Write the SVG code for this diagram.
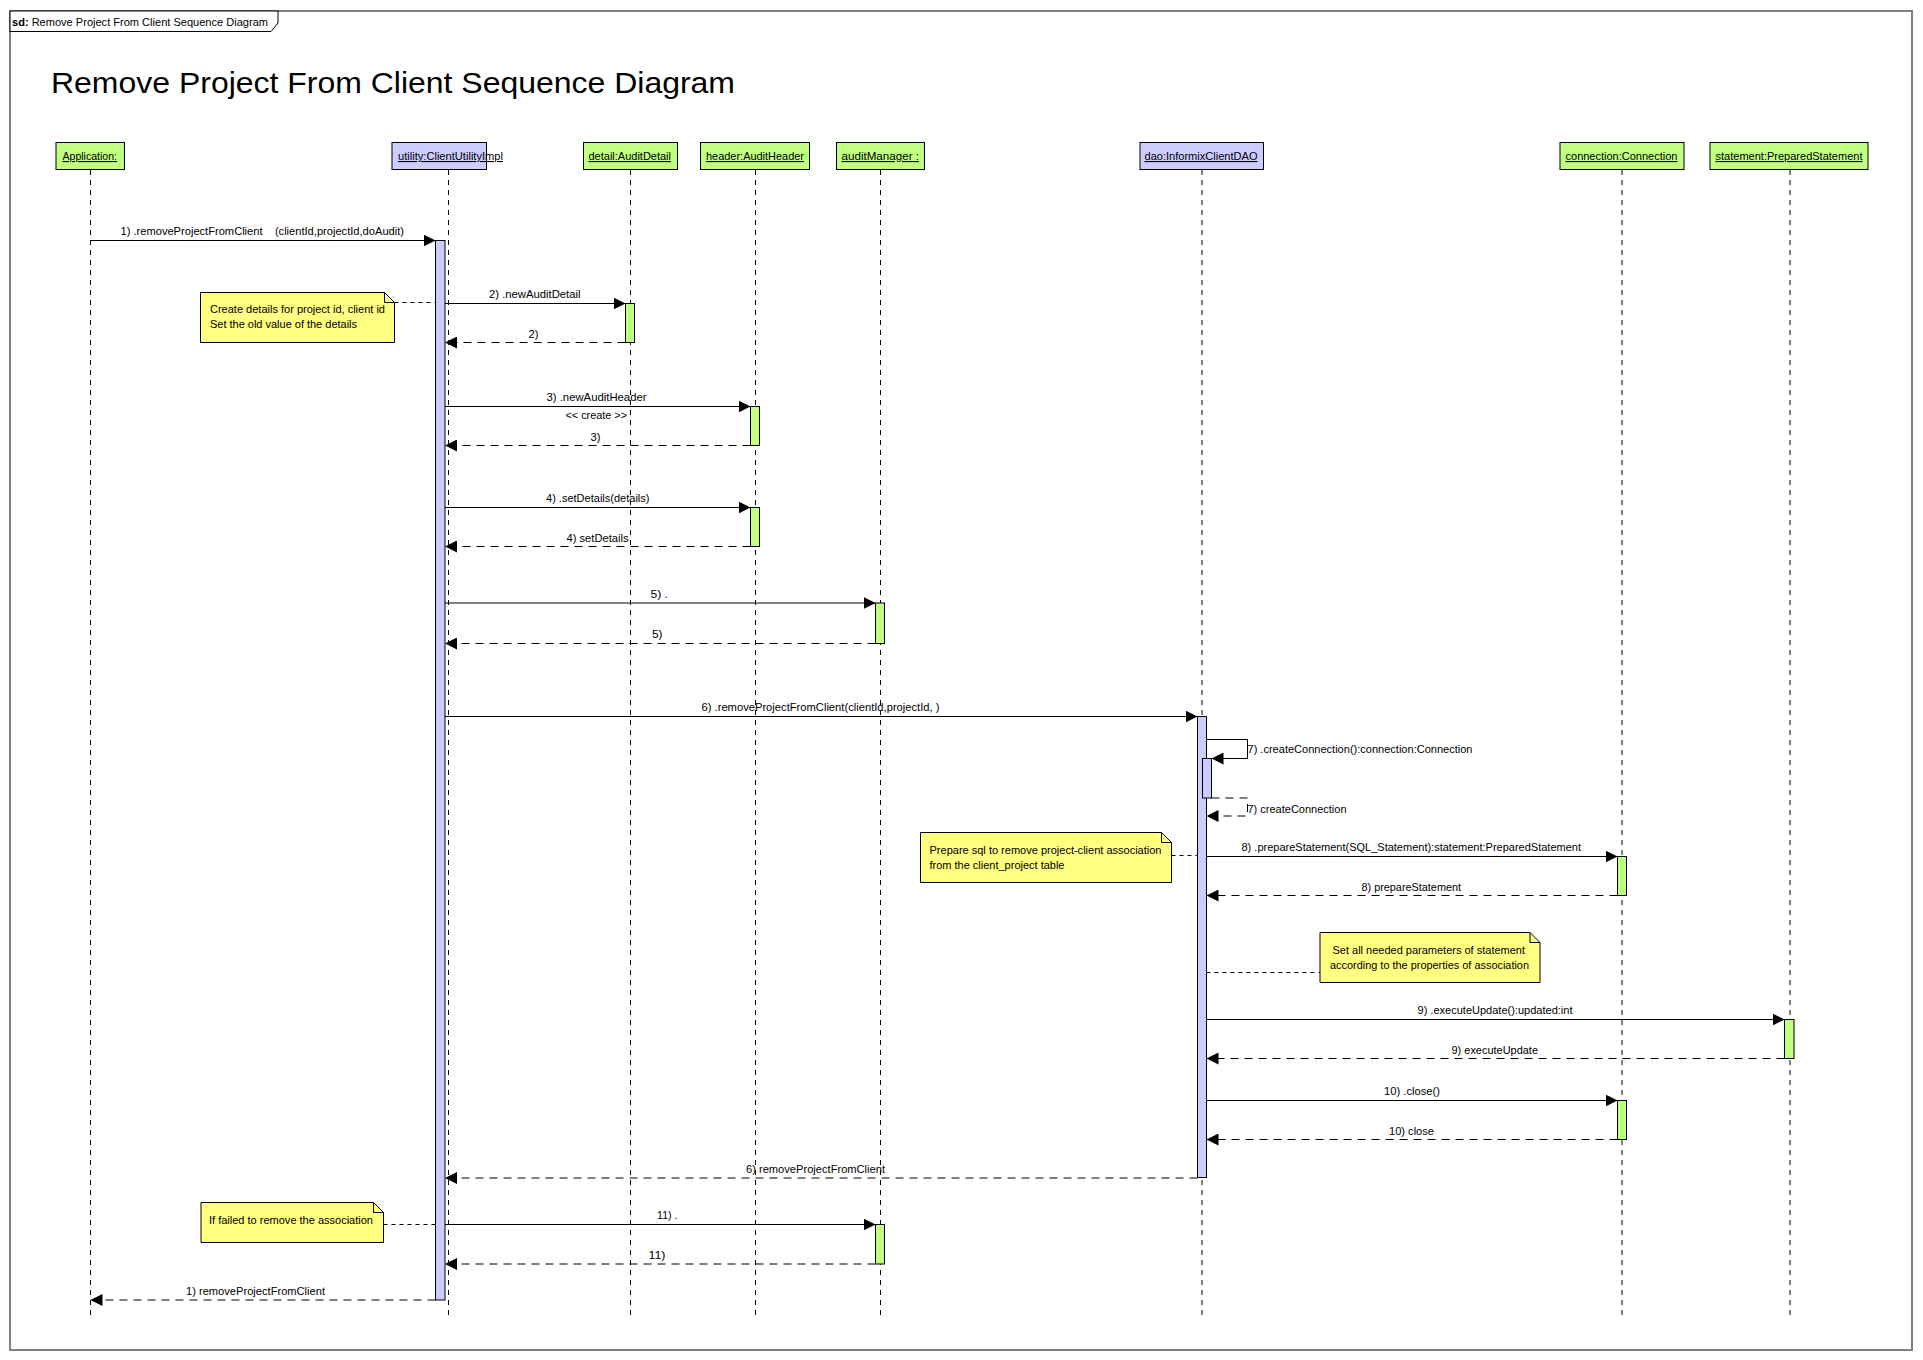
<svg xmlns="http://www.w3.org/2000/svg" width="1923" height="1360" viewBox="0 0 1923 1360">
<defs>
<style>
.t{font-family:"Liberation Sans",Arial,sans-serif;font-size:11px;fill:#000;white-space:pre}
.u{text-decoration:underline}
.life{stroke:#000;stroke-width:1;stroke-dasharray:5 5;fill:none}
.call{stroke:#000;stroke-width:1;fill:none;marker-end:url(#arr)}
.ret{stroke:#000;stroke-width:1;fill:none;stroke-dasharray:8 6;marker-end:url(#arr)}
.nl{stroke:#000;stroke-width:1;fill:none;stroke-dasharray:4 4}
.g{fill:#c0ff80;stroke:#000;stroke-width:1}
.p{fill:#ccccff;stroke:#000;stroke-width:1}
.note{fill:#ffff80;stroke:#000;stroke-width:1}
</style>
<marker id="arr" markerUnits="userSpaceOnUse" markerWidth="12" markerHeight="12" refX="12" refY="6" orient="auto">
<path d="M0,0 L12,6 L0,12 z" fill="#000"/>
</marker>
</defs>
<rect width="1923" height="1360" fill="#fff"/>
<rect x="10" y="11" width="1902" height="1339" fill="none" stroke="#808080" stroke-width="2"/>
<g id="frame-tab">
<polygon points="10,11 278,11 278,23 271,31.5 10,31.5" fill="#fff" stroke="#000" stroke-width="1"/>
<text class="t" x="12" y="26" textLength="256" lengthAdjust="spacingAndGlyphs"><tspan font-weight="bold">sd:</tspan> Remove Project From Client Sequence Diagram</text>
</g>
<text x="51" y="93" font-family="Liberation Sans,Arial,sans-serif" font-size="30" textLength="684" lengthAdjust="spacingAndGlyphs">Remove Project From Client Sequence Diagram</text>

<g id="lifelines">
<line class="life" x1="90.5" y1="170" x2="90.5" y2="1317"/>
<line class="life" x1="448.5" y1="170" x2="448.5" y2="1317"/>
<line class="life" x1="630.5" y1="170" x2="630.5" y2="1317"/>
<line class="life" x1="755.5" y1="170" x2="755.5" y2="1317"/>
<line class="life" x1="880.5" y1="170" x2="880.5" y2="1317"/>
<line class="life" x1="1202" y1="170" x2="1202" y2="1317"/>
<line class="life" x1="1622" y1="170" x2="1622" y2="1317"/>
<line class="life" x1="1790" y1="170" x2="1790" y2="1317"/>
</g>

<g id="node-application">
<rect class="g" x="56" y="142.5" width="68.5" height="27"/>
<text class="t u" x="62.5" y="160" textLength="54.5" lengthAdjust="spacingAndGlyphs">Application:</text>
</g>
<g id="node-utility">
<rect class="p" x="392" y="142.5" width="94.5" height="27"/>
<text class="t u" x="398" y="160" textLength="105" lengthAdjust="spacingAndGlyphs">utility:ClientUtilityImpl</text>
</g>
<g id="node-detail">
<rect class="g" x="583.5" y="142.5" width="94" height="27"/>
<text class="t u" x="588.5" y="160" textLength="82.5" lengthAdjust="spacingAndGlyphs">detail:AuditDetail</text>
</g>
<g id="node-header">
<rect class="g" x="700.5" y="142.5" width="109" height="27"/>
<text class="t u" x="706" y="160" textLength="98" lengthAdjust="spacingAndGlyphs">header:AuditHeader</text>
</g>
<g id="node-auditmanager">
<rect class="g" x="836.5" y="142.5" width="88" height="27"/>
<text class="t u" x="841.5" y="160" textLength="77.5" lengthAdjust="spacingAndGlyphs">auditManager :</text>
</g>
<g id="node-dao">
<rect class="p" x="1140" y="142.5" width="123.5" height="27"/>
<text class="t u" x="1144.5" y="160" textLength="113" lengthAdjust="spacingAndGlyphs">dao:InformixClientDAO</text>
</g>
<g id="node-connection">
<rect class="g" x="1560" y="142.5" width="124" height="27"/>
<text class="t u" x="1565.5" y="160" textLength="112" lengthAdjust="spacingAndGlyphs">connection:Connection</text>
</g>
<g id="node-statement">
<rect class="g" x="1710" y="142.5" width="158" height="27"/>
<text class="t u" x="1715.5" y="160" textLength="147" lengthAdjust="spacingAndGlyphs">statement:PreparedStatement</text>
</g>

<g id="activations">
<rect class="p" x="435.5" y="240.5" width="9.5" height="1059.5"/>
<rect class="g" x="625.5" y="303.5" width="9" height="39"/>
<rect class="g" x="750.5" y="406.5" width="9" height="39"/>
<rect class="g" x="750.5" y="507.5" width="9" height="39"/>
<rect class="g" x="875.5" y="603" width="9" height="40.5"/>
<rect class="p" x="1197.5" y="716.5" width="9" height="461"/>
<rect class="p" x="1202.5" y="758.5" width="9" height="39.5"/>
<rect class="g" x="1617.5" y="856.5" width="9" height="39"/>
<rect class="g" x="1784.5" y="1019.5" width="9.5" height="39"/>
<rect class="g" x="1617.5" y="1100.5" width="9" height="39"/>
<rect class="g" x="875.5" y="1224.5" width="9" height="39.5"/>
</g>

<g id="notes">
<g id="note-1">
<path class="note" d="M200.5,292.5 H384.5 L394.5,302.5 V342.5 H200.5 Z"/>
<path d="M384.5,292.5 V302.5 H394.5" fill="none" stroke="#000"/>
<text class="t" x="210" y="313" textLength="175" lengthAdjust="spacingAndGlyphs">Create details for project id, client id</text>
<text class="t" x="210" y="328" textLength="147" lengthAdjust="spacingAndGlyphs">Set the old value of the details</text>
</g>
<g id="note-2">
<path class="note" d="M920.5,832.5 H1161.5 L1171.5,842.5 V882.5 H920.5 Z"/>
<path d="M1161.5,832.5 V842.5 H1171.5" fill="none" stroke="#000"/>
<text class="t" x="929.5" y="854" textLength="232" lengthAdjust="spacingAndGlyphs">Prepare sql to remove project-client association</text>
<text class="t" x="929.5" y="869" textLength="135" lengthAdjust="spacingAndGlyphs">from the client_project table</text>
</g>
<g id="note-3">
<path class="note" d="M1320,932.5 H1530 L1540,942.5 V982.5 H1320 Z"/>
<path d="M1530,932.5 V942.5 H1540" fill="none" stroke="#000"/>
<text class="t" x="1332.5" y="954" textLength="192.5" lengthAdjust="spacingAndGlyphs">Set all needed parameters of statement</text>
<text class="t" x="1330" y="969" textLength="199" lengthAdjust="spacingAndGlyphs">according to the properties of association</text>
</g>
<g id="note-4">
<path class="note" d="M201,1202.5 H373.5 L383.5,1212.5 V1242.5 H201 Z"/>
<path d="M373.5,1202.5 V1212.5 H383.5" fill="none" stroke="#000"/>
<text class="t" x="209" y="1224" textLength="164" lengthAdjust="spacingAndGlyphs">If failed to remove the association</text>
</g>
</g>

<g id="connectors">
<line class="nl" x1="394.5" y1="302.5" x2="435.5" y2="302.5"/>
<line class="nl" x1="1171.5" y1="855.5" x2="1197.5" y2="855.5"/>
<line class="nl" x1="1206.5" y1="972.5" x2="1320" y2="972.5"/>
<line class="nl" x1="383.5" y1="1224.5" x2="435.5" y2="1224.5"/>

<line class="call" x1="90.5" y1="240.5" x2="435.5" y2="240.5"/>
<text class="t" x="120.5" y="235" textLength="283.5" lengthAdjust="spacingAndGlyphs">1) .removeProjectFromClient    (clientId,projectId,doAudit)</text>

<line class="call" x1="445" y1="303.5" x2="625.5" y2="303.5"/>
<text class="t" x="489" y="298" textLength="91.5" lengthAdjust="spacingAndGlyphs">2) .newAuditDetail</text>
<line class="ret" x1="625.5" y1="342.5" x2="445" y2="342.5"/>
<text class="t" x="528.5" y="338" textLength="10" lengthAdjust="spacingAndGlyphs">2)</text>

<line class="call" x1="445" y1="406.5" x2="750.5" y2="406.5"/>
<text class="t" x="546.5" y="401" textLength="100" lengthAdjust="spacingAndGlyphs">3) .newAuditHeader</text>
<text class="t" x="565.5" y="419" textLength="61.5" lengthAdjust="spacingAndGlyphs">&lt;&lt; create &gt;&gt;</text>
<line class="ret" x1="750.5" y1="445.5" x2="445" y2="445.5"/>
<text class="t" x="590.5" y="441" textLength="10" lengthAdjust="spacingAndGlyphs">3)</text>

<line class="call" x1="445" y1="507.5" x2="750.5" y2="507.5"/>
<text class="t" x="546" y="501.5" textLength="103.5" lengthAdjust="spacingAndGlyphs">4) .setDetails(details)</text>
<line class="ret" x1="750.5" y1="546.5" x2="445" y2="546.5"/>
<text class="t" x="566.5" y="541.5" textLength="62" lengthAdjust="spacingAndGlyphs">4) setDetails</text>

<line class="call" x1="445" y1="603" x2="875.5" y2="603"/>
<text class="t" x="650.5" y="598" textLength="17.5" lengthAdjust="spacingAndGlyphs">5) .</text>
<line class="ret" x1="875.5" y1="643.5" x2="445" y2="643.5"/>
<text class="t" x="652" y="638" textLength="10.5" lengthAdjust="spacingAndGlyphs">5)</text>

<line class="call" x1="445" y1="716.5" x2="1197.5" y2="716.5"/>
<text class="t" x="701.5" y="711" textLength="238" lengthAdjust="spacingAndGlyphs">6) .removeProjectFromClient(clientId,projectId, )</text>

<polyline class="call" points="1206.5,739.5 1247.5,739.5 1247.5,758.5 1211.5,758.5"/>
<text class="t" x="1247.5" y="753" textLength="225" lengthAdjust="spacingAndGlyphs">7) .createConnection():connection:Connection</text>
<polyline class="ret" points="1211.5,798 1247.5,798 1247.5,816 1206.5,816"/>
<text class="t" x="1247.5" y="813" textLength="99" lengthAdjust="spacingAndGlyphs">7) createConnection</text>

<line class="call" x1="1206.5" y1="856.5" x2="1617.5" y2="856.5"/>
<text class="t" x="1241.5" y="851" textLength="339.5" lengthAdjust="spacingAndGlyphs">8) .prepareStatement(SQL_Statement):statement:PreparedStatement</text>
<line class="ret" x1="1617.5" y1="895.5" x2="1206.5" y2="895.5"/>
<text class="t" x="1361.5" y="891" textLength="99.5" lengthAdjust="spacingAndGlyphs">8) prepareStatement</text>

<line class="call" x1="1206.5" y1="1019.5" x2="1784.5" y2="1019.5"/>
<text class="t" x="1417.5" y="1014" textLength="155" lengthAdjust="spacingAndGlyphs">9) .executeUpdate():updated:int</text>
<line class="ret" x1="1784.5" y1="1058.5" x2="1206.5" y2="1058.5"/>
<text class="t" x="1451.5" y="1054" textLength="86.5" lengthAdjust="spacingAndGlyphs">9) executeUpdate</text>

<line class="call" x1="1206.5" y1="1100.5" x2="1617.5" y2="1100.5"/>
<text class="t" x="1384" y="1095" textLength="56" lengthAdjust="spacingAndGlyphs">10) .close()</text>
<line class="ret" x1="1617.5" y1="1139.5" x2="1206.5" y2="1139.5"/>
<text class="t" x="1389" y="1135" textLength="45" lengthAdjust="spacingAndGlyphs">10) close</text>

<line class="ret" x1="1197.5" y1="1178" x2="445" y2="1178"/>
<text class="t" x="746" y="1173" textLength="139" lengthAdjust="spacingAndGlyphs">6) removeProjectFromClient</text>

<line class="call" x1="445" y1="1224.5" x2="875.5" y2="1224.5"/>
<text class="t" x="657" y="1219" textLength="20.5" lengthAdjust="spacingAndGlyphs">11) .</text>
<line class="ret" x1="875.5" y1="1264" x2="445" y2="1264"/>
<text class="t" x="648.5" y="1259" textLength="17" lengthAdjust="spacingAndGlyphs">11)</text>

<line class="ret" x1="435.5" y1="1300" x2="90.5" y2="1300"/>
<text class="t" x="186" y="1295" textLength="139" lengthAdjust="spacingAndGlyphs">1) removeProjectFromClient</text>
</g>
</svg>
